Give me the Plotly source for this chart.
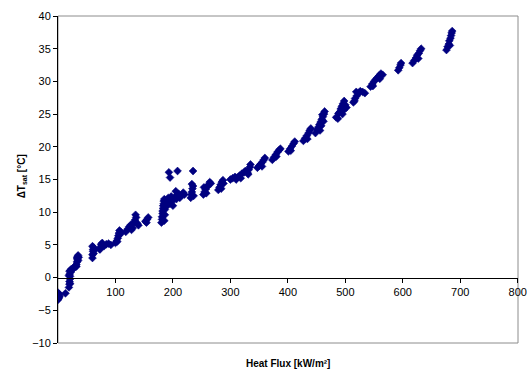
import plotly.graph_objects as go

# Measured wall superheat vs. heat flux, grouped by test run
flux_low = [0, 0, 1, 1, 2, 2, 0, 3, 13,
            19, 20, 20, 21, 21, 20, 22, 22, 19, 23, 21, 20,
            26, 28, 30, 32, 33, 34, 34, 35, 33, 36, 32, 35,
            60, 60, 61, 61, 62, 60, 63, 62,
            72, 74, 76, 77, 75, 80, 84, 88, 92, 73,
            100, 102, 104, 105, 106, 107, 103, 108, 110,
            118, 121, 124, 127, 130, 132, 134, 136, 135, 138, 140, 128,
            152, 155, 157, 154]
dt_low = [-2.3, -2.6, -2.9, -3.2, -2.5, -3.0, -3.4, -2.8, -2.4,
          -1.5, -1.0, -0.6, -0.2, 0.2, 0.5, 0.8, 1.1, 0.3, 1.3, -0.9, 1.0,
          1.3, 1.5, 1.8, 2.0, 2.4, 2.8, 3.2, 2.6, 3.0, 3.1, 1.7, 3.4,
          3.0, 3.5, 4.0, 4.3, 4.6, 4.8, 4.2, 3.7,
          4.4, 4.6, 4.9, 5.3, 5.1, 4.8, 5.1, 5.2, 5.0, 4.3,
          5.3, 5.6, 6.0, 6.4, 6.8, 7.2, 5.5, 6.6, 6.9,
          7.0, 7.4, 7.8, 8.1, 7.6, 8.4, 8.8, 9.2, 9.6, 8.3, 8.0, 7.3,
          8.6, 8.9, 9.2, 8.4]

flux_mid = [180, 181, 181, 182, 182, 183, 183, 184, 184, 185, 186, 186, 185, 187, 188, 190, 192, 189,
            195, 198, 200, 203, 206, 208, 210, 212, 215, 218, 220, 197, 205, 200,
            193, 195, 208, 235,
            231, 232, 233, 234, 235, 233, 236,
            253, 255, 257, 260, 262, 264, 258, 266, 254,
            279, 281, 283, 285, 287, 284, 288,
            300, 304, 308, 312, 316, 320, 324, 326, 310, 318,
            330, 332, 334, 335, 331,
            347, 350, 353, 356, 358, 360, 355,
            373, 376, 379, 382, 385, 387, 380]
dt_mid = [8.4, 8.9, 9.3, 9.8, 10.2, 10.6, 11.0, 11.3, 11.7, 12.0, 9.6, 10.4, 8.7, 11.0, 11.6, 11.9, 12.2, 10.9,
          11.3, 11.6, 12.0, 12.3, 12.0, 12.5, 12.8, 12.2, 12.6, 13.0, 12.7, 12.4, 13.2, 11.0,
          16.1, 15.3, 16.3, 16.3,
          12.2, 12.7, 13.1, 13.6, 14.0, 14.3, 12.5,
          12.7, 13.1, 13.5, 13.9, 14.2, 14.6, 12.9, 14.4, 13.8,
          13.4, 13.8, 14.2, 14.6, 14.9, 13.6, 14.4,
          15.0, 15.2, 15.4, 15.3, 15.6, 15.9, 16.1, 16.3, 15.0, 15.2,
          16.0, 16.5, 16.9, 17.3, 15.8,
          16.8, 17.1, 17.4, 17.7, 18.0, 18.3, 17.0,
          18.0, 18.4, 18.8, 19.2, 19.5, 19.7, 18.5]

flux_high = [401, 404, 407, 410, 412, 405,
             427, 430, 433, 436, 438, 440, 434,
             448, 451, 453, 455, 457, 459, 461, 463, 464, 458, 460, 456, 462,
             484, 487, 490, 492, 494, 496, 498, 500, 495, 502, 488, 497,
             514, 517, 520, 523, 526, 530, 534, 519, 516,
             544, 547, 550, 553, 556, 559, 562, 565, 548, 560,
             592, 594, 596, 597,
             617, 620, 623, 625, 628, 630, 632, 627,
             676, 678, 680, 681, 683, 684, 685, 686, 682]
dt_high = [19.3, 19.7, 20.1, 20.5, 20.8, 19.4,
           20.9, 21.3, 21.7, 22.1, 22.5, 22.8, 21.2,
           22.1, 22.6, 23.0, 23.4, 23.8, 24.2, 24.6, 25.0, 25.4, 23.2, 24.9, 22.5, 23.9,
           24.5, 24.3, 25.3, 25.8, 26.2, 26.6, 27.0, 26.4, 25.0, 26.0, 25.1, 25.6,
           26.8, 27.4, 27.8, 28.2, 28.5, 28.4, 28.2, 28.4, 27.0,
           29.2, 29.6, 30.0, 30.3, 30.6, 30.9, 31.2, 31.0, 29.3, 30.4,
           31.7, 32.1, 32.5, 32.8,
           32.8, 33.2, 33.6, 34.0, 34.3, 34.7, 35.0, 33.5,
           34.8, 35.3, 35.7, 36.2, 36.6, 37.0, 37.4, 37.7, 35.5]

x_ticks = [100, 200, 300, 400, 500, 600, 700, 800]
y_ticks = [-10, -5, 0, 5, 10, 15, 20, 25, 30, 35, 40]

FONT = "Liberation Sans, Arial, sans-serif"
NAVY = "#000080"

fig = go.Figure()
for xs, ys in [(flux_low, dt_low), (flux_mid, dt_mid), (flux_high, dt_high)]:
    fig.add_trace(go.Scatter(
        x=xs, y=ys, mode="markers",
        marker=dict(symbol="diamond", size=6, color=NAVY, line=dict(width=0.6, color=NAVY)),
        showlegend=False, hoverinfo="x+y",
    ))

fig.update_layout(
    width=527, height=372,
    margin=dict(l=58, r=9, t=16, b=29, autoexpand=False),
    paper_bgcolor="white", plot_bgcolor="white",
    font=dict(family=FONT, size=11, color="black"),
    xaxis=dict(
        range=[0, 800.5], tickvals=x_ticks, showgrid=False, zeroline=False,
        showline=True, linecolor="black", linewidth=1,
        ticks="outside", ticklen=4, tickcolor="black",
        anchor="free", position=0.2, automargin=False,
        ticklabeloverflow="allow",
        tickfont=dict(family=FONT, size=11),
    ),
    yaxis=dict(
        range=[-10, 40], tickvals=y_ticks, showgrid=False, zeroline=False,
        showline=True, linecolor="black", linewidth=1,
        ticks="outside", ticklen=4, tickcolor="black", automargin=False,
        tickfont=dict(family=FONT, size=11),
    ),
    shapes=[dict(type="rect", xref="paper", yref="paper", x0=0, x1=1, y0=0, y1=1,
                 line=dict(color="#8c8c8c", width=1), layer="below")],
    annotations=[
        dict(text="<b>Heat Flux [kW/m²]</b>", xref="paper", yref="paper",
             x=0.5, y=-0.062, xanchor="center", yanchor="middle", showarrow=False,
             font=dict(family=FONT, size=10)),
        dict(text="<b>ΔT<sub>sat</sub> [°C]</b>", xref="paper", yref="paper",
             x=-0.078, y=0.51, xanchor="center", yanchor="middle", showarrow=False,
             textangle=-90, font=dict(family=FONT, size=10)),
    ],
)

fig.write_html("out.html")
